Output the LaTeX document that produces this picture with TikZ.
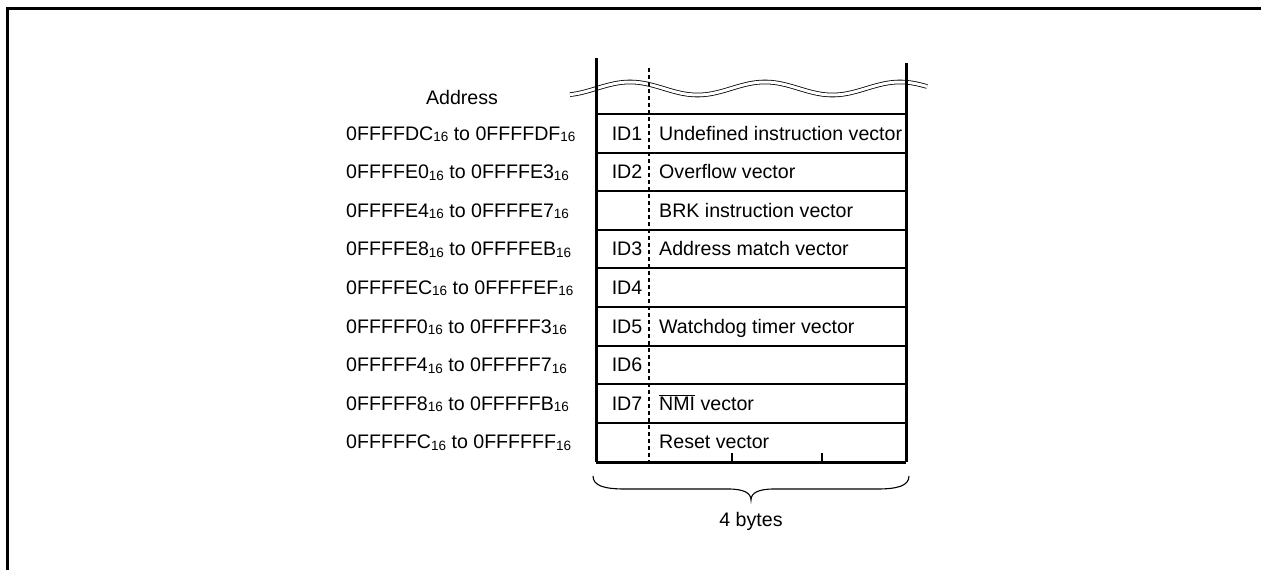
\documentclass[tikz,border=0pt]{standalone}
\usepackage{fontspec}
\setmainfont{Liberation Sans}
\newcommand{\hexsub}[1]{{\fontsize{13.5}{14}\selectfont\raisebox{-1.5pt}{#1}}}
\begin{document}
\begin{tikzpicture}[x=1pt,y=-1pt,
  lbl/.style={inner sep=0pt, font=\fontsize{19.6}{23}\selectfont},
  rowline/.style={line width=2pt},
  wall/.style={line width=3pt},
  wavy/.style={double=white, double distance=3pt, line width=0.8pt}]
\useasboundingbox (0,0) rectangle (1261,570);
% frame
\draw[line width=3pt] (7,571) -- (7,8) -- (1262,8);
% wavy break
\draw[wavy] plot[domain=570:927, samples=120, smooth] (\x, {88.5 - 6.5*cos((\x-630)*2.6667)});
% walls
\coordinate (lt) at (596,58);
\coordinate (lb) at (596,462);
\coordinate (rt) at (906,63);
\coordinate (rb) at (906,462);
\coordinate (dt) at (649,68);
\coordinate (db) at (649,461);
\draw[wall] (lt) -- (lb);
\draw[wall] (rt) -- (rb);
\draw[wall] (lb) -- (rb);
\draw[line width=1.3pt, dash pattern=on 4pt off 3pt] (dt) -- (db);
% row lines
\foreach \k in {0,...,8} {
  \draw[rowline] (596,{114+38.6*\k}) -- (906,{114+38.6*\k});
}
% ticks
\coordinate (t1) at (732,461);
\coordinate (t2) at (822,461);
\draw[line width=1.3pt] (t1) -- ++(0,-8);
\draw[line width=1.3pt] (t2) -- ++(0,-8);
% labels
\node[lbl] (addr) at (462,97) {Address};
\foreach \i/\a/\b/\id/\v in {
  0/0FFFFDC/0FFFFDF/ID1/Undefined instruction vector,
  1/0FFFFE0/0FFFFE3/ID2/Overflow vector,
  2/0FFFFE4/0FFFFE7//BRK instruction vector,
  3/0FFFFE8/0FFFFEB/ID3/Address match vector,
  4/0FFFFEC/0FFFFEF/ID4/,
  5/0FFFFF0/0FFFFF3/ID5/Watchdog timer vector,
  6/0FFFFF4/0FFFFF7/ID6/,
  7/0FFFFF8/0FFFFFB/ID7/{$\overline{\mbox{NMI}}$ vector},
  8/0FFFFFC/0FFFFFF//Reset vector} {
  \node[lbl, anchor=base west] (a\i) at (346,{140+38.6*\i}) {\a\hexsub{16} to \b\hexsub{16}};
  \node[lbl, anchor=base] (id\i) at (627,{140+38.6*\i}) {\id};
  \node[lbl, anchor=base west] (v\i) at (659,{140+38.6*\i}) {\v};
}
% brace
\draw[line width=1.1pt] (593,476) .. controls (593,486) and (605,489) .. (625,489) -- (728,489)
  .. controls (744,489) and (751,493) .. (751,500)
  .. controls (751,493) and (758,489) .. (774,489) -- (877,489)
  .. controls (897,489) and (909,486) .. (909,476);
\node[lbl] (bytes) at (751,521) {4 bytes};
\end{tikzpicture}
\end{document}
